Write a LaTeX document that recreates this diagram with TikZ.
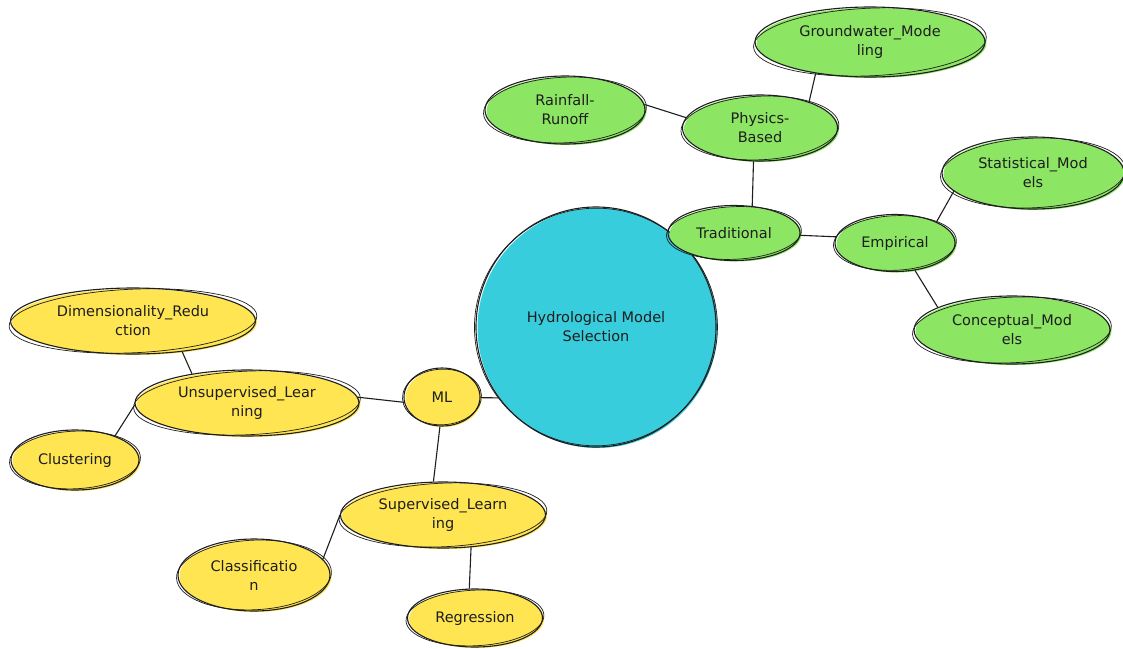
\documentclass[tikz,border=0pt]{standalone}
\usepackage{fontspec}
\setmainfont{DejaVu Sans}
\usetikzlibrary{shapes.geometric}
\definecolor{ink}{HTML}{1E1E1E}
\definecolor{leaf}{HTML}{8CE563}
\definecolor{sun}{HTML}{FFE552}
\definecolor{sea}{HTML}{38CDDC}
\tikzset{
  bubble/.style={ellipse, draw=ink, line width=1.1pt, inner sep=0pt, align=center,
    font=\fontsize{14.5}{19}\selectfont, text=ink},
  sketch/.style={draw=ink, line width=0.7pt},
  link/.style={draw=ink, line width=1.1pt},
}
% name, x, y, width, height, fill colour, label
\newcommand\bubble[7]{%
  \fill[#6] ({#2+1.5},{#3+1}) ellipse ({#4/2*1pt} and {#5/2*1pt});
  \node[bubble, minimum width=#4pt, minimum height=#5pt] (#1) at (#2,#3) {#7};
  \draw[sketch, rotate around={2.5:(#1.center)}] (#1.center) ellipse ({(#4/2+1.5)*1pt} and {(#5/2-1.2)*1pt});
}
\begin{document}
\begin{tikzpicture}[x=1pt, y=-1pt]
\useasboundingbox (0,0) rectangle (1123,648);
\fill[white] (0,0) rectangle (1123,648);

% centre topic
\bubble{main}{596}{327}{240}{240}{sea}{Hydrological Model\\Selection}

% traditional branch
\bubble{trad}{734}{233}{132}{55}{leaf}{Traditional}
\bubble{phys}{760}{128}{155}{66}{leaf}{Physics-\\Based}
\bubble{rain}{565}{110}{160}{68}{leaf}{Rainfall-\\Runoff}
\bubble{gw}{870}{42}{230}{70}{leaf}{Groundwater\_Mode\\ling}
\bubble{emp}{895}{243}{120}{57}{leaf}{Empirical}
\bubble{stat}{1033}{173}{182}{72}{leaf}{Statistical\_Mod\\els}
\bubble{conc}{1012}{330}{196}{68}{leaf}{Conceptual\_Mod\\els}

% machine learning branch
\bubble{ml}{442}{397}{76}{58}{sun}{ML}
\bubble{unsup}{247}{403}{224}{66}{sun}{Unsupervised\_Lear\\ning}
\bubble{dim}{133}{321}{245}{66}{sun}{Dimensionality\_Redu\\ction}
\bubble{clust}{75}{460}{128}{60}{sun}{Clustering}
\bubble{sup}{443}{515}{205}{66}{sun}{Supervised\_Learn\\ing}
\bubble{class}{254}{575}{152}{72}{sun}{Classificatio\\n}
\bubble{reg}{475}{618}{135}{58}{sun}{Regression}

% connectors
\draw[link] (phys.172) -- (rain.4);
\draw[link] (trad.56) -- (phys.259);
\draw[link] (phys.28) -- (gw.210);
\draw[link] (trad.358) -- (emp.174);
\draw[link] (emp.27) -- (stat.193);
\draw[link] (emp.306) -- (conc.163);
\draw[link] (ml.359) -- (main.216);
\draw[link] (ml.188) -- (unsup.3);
\draw[link] (unsup.152) -- (dim.328);
\draw[link] (unsup.181) -- (clust.31);
\draw[link] (ml.266) -- (sup.106);
\draw[link] (sup.180) -- (class.13);
\draw[link] (sup.311) -- (reg.101);
\end{tikzpicture}
\end{document}
